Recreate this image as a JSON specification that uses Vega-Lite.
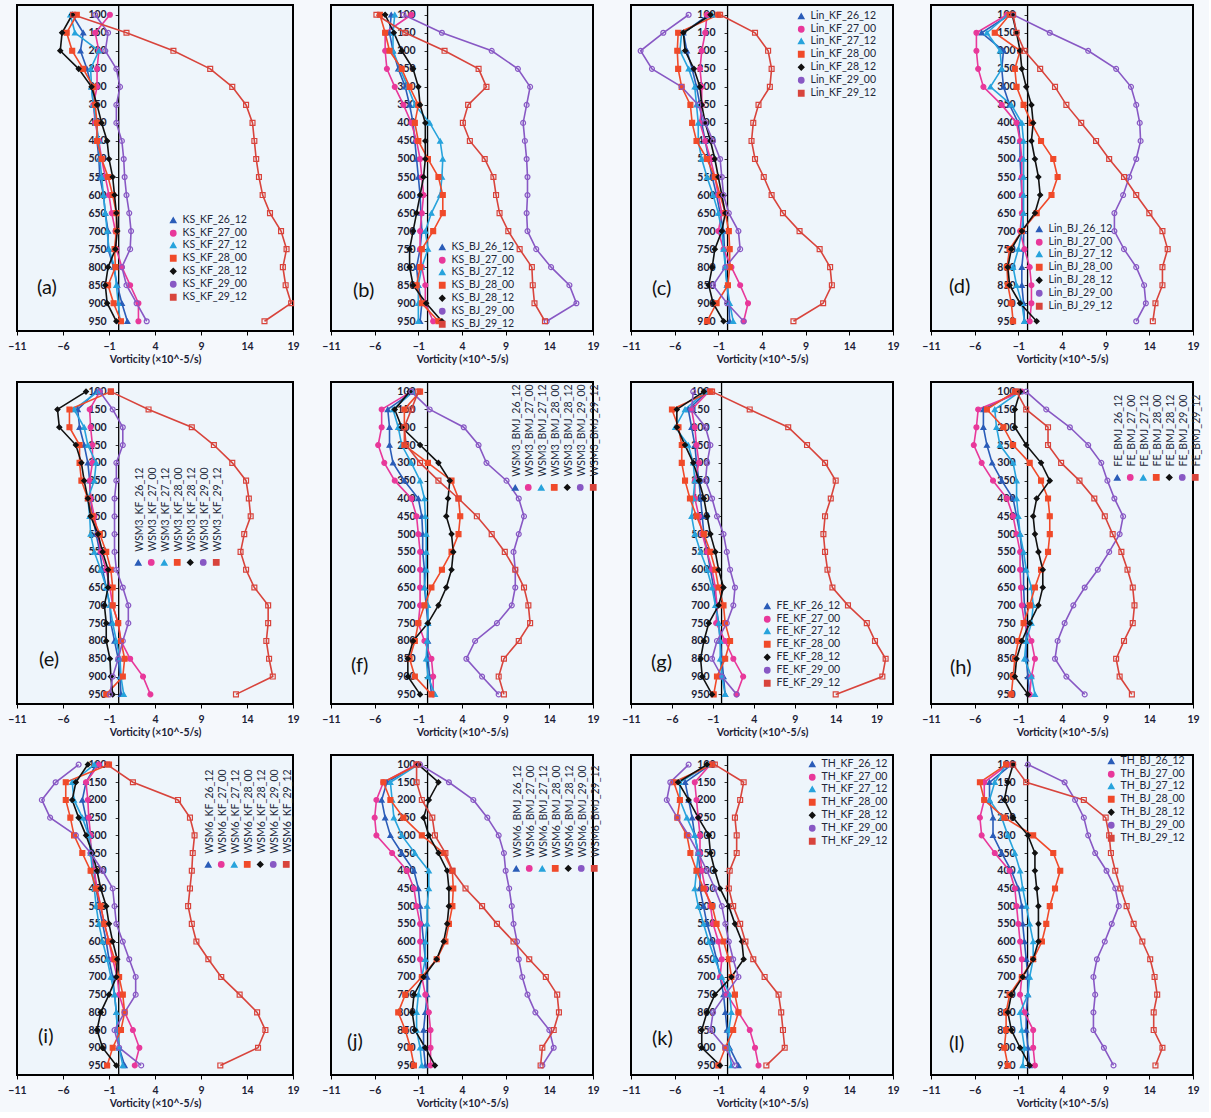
{
"$schema":"https://vega.github.io/schema/vega-lite/v6.json",
"background":"#f5f8fc",
"padding":{"left":6,"top":4,"right":5,"bottom":2},
"config":{"font":"Lato","view":{"stroke":"#000","strokeWidth":2,"fill":"#eef5fb"},
"legend":{"labelFontSize":10.5,"labelColor":"#22283a","symbolSize":30,"rowPadding":1,"columnPadding":-2,"padding":0,"labelOffset":4,"symbolStrokeWidth":1.3},
"title":{"orient":"top","anchor":"start","frame":"group","fontSize":20,"fontWeight":"normal","color":"#111","baseline":"alphabetic"},
"axis":{"grid":false}},
"datasets":{"vort":[
{"p":"a","l":100,"26_12":-5.0,"27_00":-0.9,"27_12":-5.2,"28_00":-4.5,"28_12":-5.0,"29_00":-2.5,"29_12":-4.9},
{"p":"a","l":150,"26_12":-3.8,"27_00":-2.5,"27_12":-4.7,"28_00":-5.6,"28_12":-6.1,"29_00":-1.1,"29_12":0.9},
{"p":"a","l":200,"26_12":-4.1,"27_00":-2.1,"27_12":-2.1,"28_00":-5.0,"28_12":-6.3,"29_00":-1.4,"29_12":6.0},
{"p":"a","l":250,"26_12":-3.4,"27_00":-2.3,"27_12":-3.0,"28_00":-3.8,"28_12":-4.3,"29_00":-0.2,"29_12":10.0},
{"p":"a","l":300,"26_12":-2.9,"27_00":-2.3,"27_12":-2.9,"28_00":-2.7,"28_12":-2.9,"29_00":0.2,"29_12":12.4},
{"p":"a","l":350,"26_12":-2.7,"27_00":-2.7,"27_12":-2.7,"28_00":-2.5,"28_12":-2.3,"29_00":-0.2,"29_12":13.9},
{"p":"a","l":400,"26_12":-2.3,"27_00":-2.5,"27_12":-2.4,"28_00":-2.3,"28_12":-1.8,"29_00":-0.2,"29_12":14.6},
{"p":"a","l":450,"26_12":-2.3,"27_00":-2.1,"27_12":-2.1,"28_00":-2.3,"28_12":-1.2,"29_00":0.4,"29_12":14.8},
{"p":"a","l":500,"26_12":-2.1,"27_00":-1.8,"27_12":-2.0,"28_00":-1.8,"28_12":-1.0,"29_00":0.6,"29_12":15.0},
{"p":"a","l":550,"26_12":-2.0,"27_00":-1.4,"27_12":-1.8,"28_00":-1.1,"28_12":-0.6,"29_00":0.7,"29_12":15.3},
{"p":"a","l":600,"26_12":-1.6,"27_00":-1.0,"27_12":-1.6,"28_00":-0.6,"28_12":-0.4,"29_00":0.9,"29_12":15.7},
{"p":"a","l":650,"26_12":-1.4,"27_00":-0.7,"27_12":-1.4,"28_00":-0.2,"28_12":-0.2,"29_00":1.2,"29_12":16.5},
{"p":"a","l":700,"26_12":-1.1,"27_00":-0.3,"27_12":-1.2,"28_00":-0.2,"28_12":-0.1,"29_00":1.4,"29_12":17.7},
{"p":"a","l":750,"26_12":-1.1,"27_00":-0.2,"27_12":-1.0,"28_00":-0.4,"28_12":-0.3,"29_00":1.3,"29_12":18.3},
{"p":"a","l":800,"26_12":-0.5,"27_00":0.4,"27_12":-0.4,"28_00":-0.3,"28_12":-1.1,"29_00":0.4,"29_12":17.9},
{"p":"a","l":850,"26_12":-0.1,"27_00":1.3,"27_12":-0.2,"28_00":-1.1,"28_12":-1.4,"29_00":0.9,"29_12":18.2},
{"p":"a","l":900,"26_12":0.4,"27_00":2.2,"27_12":0.0,"28_00":-0.5,"28_12":-1.2,"29_00":2.0,"29_12":18.8},
{"p":"a","l":950,"26_12":1.0,"27_00":2.2,"27_12":0.2,"28_00":0.3,"28_12":-0.2,"29_00":3.1,"29_12":15.9},
{"p":"b","l":100,"26_12":-4.1,"27_00":-1.8,"27_12":-3.7,"28_00":-5.4,"28_12":-4.8,"29_00":-2.7,"29_12":-5.8},
{"p":"b","l":150,"26_12":-4.3,"27_00":-4.8,"27_12":-3.9,"28_00":-4.8,"28_12":-3.8,"29_00":1.7,"29_12":-2.5},
{"p":"b","l":200,"26_12":-3.9,"27_00":-4.8,"27_12":-3.9,"28_00":-4.3,"28_12":-2.9,"29_00":7.4,"29_12":2.0},
{"p":"b","l":250,"26_12":-3.3,"27_00":-4.6,"27_12":-3.1,"28_00":-2.9,"28_12":-1.6,"29_00":10.4,"29_12":5.9},
{"p":"b","l":300,"26_12":-2.5,"27_00":-3.7,"27_12":-2.2,"28_00":-2.0,"28_12":-1.0,"29_00":11.8,"29_12":6.8},
{"p":"b","l":350,"26_12":-2.0,"27_00":-2.7,"27_12":-1.4,"28_00":-1.0,"28_12":-0.8,"29_00":11.4,"29_12":4.7},
{"p":"b","l":400,"26_12":-1.6,"27_00":-1.8,"27_12":0.3,"28_00":-1.4,"28_12":-0.2,"29_00":11.0,"29_12":4.1},
{"p":"b","l":450,"26_12":-1.4,"27_00":-1.2,"27_12":1.5,"28_00":-1.0,"28_12":-0.2,"29_00":11.2,"29_12":4.9},
{"p":"b","l":500,"26_12":-1.2,"27_00":-0.8,"27_12":1.8,"28_00":0.1,"28_12":-0.2,"29_00":11.4,"29_12":6.6},
{"p":"b","l":550,"26_12":-1.0,"27_00":-0.6,"27_12":1.7,"28_00":1.3,"28_12":-0.4,"29_00":11.5,"29_12":7.6},
{"p":"b","l":600,"26_12":-0.8,"27_00":-0.4,"27_12":1.5,"28_00":1.8,"28_12":-0.8,"29_00":11.5,"29_12":7.9},
{"p":"b","l":650,"26_12":-0.7,"27_00":-0.6,"27_12":0.5,"28_00":1.8,"28_12":-1.2,"29_00":11.4,"29_12":8.3},
{"p":"b","l":700,"26_12":-0.6,"27_00":-0.8,"27_12":-0.2,"28_00":0.7,"28_12":-1.6,"29_00":11.5,"29_12":9.3},
{"p":"b","l":750,"26_12":-0.8,"27_00":-0.8,"27_12":0.1,"28_00":-0.6,"28_12":-2.0,"29_00":12.5,"29_12":10.6},
{"p":"b","l":800,"26_12":-1.2,"27_00":-0.6,"27_12":-0.6,"28_00":-0.8,"28_12":-2.0,"29_00":14.2,"29_12":12.0},
{"p":"b","l":850,"26_12":-1.0,"27_00":-0.2,"27_12":-1.0,"28_00":-1.2,"28_12":-1.6,"29_00":16.3,"29_12":12.1},
{"p":"b","l":900,"26_12":-0.6,"27_00":-0.2,"27_12":-1.0,"28_00":-0.6,"28_12":-0.1,"29_00":17.1,"29_12":12.3},
{"p":"b","l":950,"26_12":-0.8,"27_00":0.7,"27_12":-1.0,"28_00":1.3,"28_12":1.7,"29_00":13.7,"29_12":13.5},
{"p":"c","l":100,"26_12":-2.1,"27_00":-2.3,"27_12":-1.7,"28_00":-1.0,"28_12":-1.9,"29_00":-4.4,"29_12":-0.8},
{"p":"c","l":150,"26_12":-5.0,"27_00":-2.5,"27_12":-5.2,"28_00":-5.6,"28_12":-5.0,"29_00":-7.3,"29_12":3.2},
{"p":"c","l":200,"26_12":-4.6,"27_00":-2.9,"27_12":-5.4,"28_00":-5.7,"28_12":-4.8,"29_00":-9.9,"29_12":4.7},
{"p":"c","l":250,"26_12":-4.0,"27_00":-3.1,"27_12":-4.4,"28_00":-5.6,"28_12":-3.8,"29_00":-8.6,"29_12":5.1},
{"p":"c","l":300,"26_12":-3.5,"27_00":-2.9,"27_12":-3.7,"28_00":-5.2,"28_12":-3.1,"29_00":-5.2,"29_12":4.9},
{"p":"c","l":350,"26_12":-3.1,"27_00":-2.9,"27_12":-3.5,"28_00":-4.2,"28_12":-2.9,"29_00":-3.3,"29_12":3.6},
{"p":"c","l":400,"26_12":-2.9,"27_00":-3.1,"27_12":-3.3,"28_00":-4.0,"28_12":-2.5,"29_00":-2.5,"29_12":3.0},
{"p":"c","l":450,"26_12":-2.5,"27_00":-2.5,"27_12":-3.3,"28_00":-3.5,"28_12":-1.9,"29_00":-1.6,"29_12":2.8},
{"p":"c","l":500,"26_12":-2.1,"27_00":-1.9,"27_12":-2.9,"28_00":-2.3,"28_12":-1.4,"29_00":-0.8,"29_12":3.2},
{"p":"c","l":550,"26_12":-1.7,"27_00":-1.4,"27_12":-2.3,"28_00":-1.4,"28_12":-1.0,"29_00":-0.6,"29_12":4.2},
{"p":"c","l":600,"26_12":-1.2,"27_00":-1.0,"27_12":-1.6,"28_00":-0.8,"28_12":-0.6,"29_00":-0.4,"29_12":5.1},
{"p":"c","l":650,"26_12":-0.8,"27_00":-0.6,"27_12":-1.0,"28_00":-0.2,"28_12":-0.2,"29_00":0.2,"29_12":6.4},
{"p":"c","l":700,"26_12":-0.4,"27_00":-1.0,"27_12":-0.6,"28_00":0.2,"28_12":-0.6,"29_00":1.3,"29_12":8.3},
{"p":"c","l":750,"26_12":-0.3,"27_00":-0.4,"27_12":-0.4,"28_00":0.3,"28_12":-1.4,"29_00":1.5,"29_12":10.6},
{"p":"c","l":800,"26_12":-0.2,"27_00":0.5,"27_12":-0.2,"28_00":0.3,"28_12":-1.7,"29_00":-0.2,"29_12":11.8},
{"p":"c","l":850,"26_12":0.0,"27_00":1.5,"27_12":0.0,"28_00":0.1,"28_12":-2.1,"29_00":-1.6,"29_12":12.0},
{"p":"c","l":900,"26_12":0.2,"27_00":2.4,"27_12":0.3,"28_00":-1.2,"28_12":-1.6,"29_00":0.0,"29_12":11.0},
{"p":"c","l":950,"26_12":0.3,"27_00":1.9,"27_12":0.7,"28_00":-2.3,"28_12":-0.4,"29_00":1.9,"29_12":7.6},
{"p":"d","l":100,"26_12":-2.0,"27_00":-2.3,"27_12":-2.2,"28_00":-2.0,"28_12":-1.7,"29_00":-1.6,"29_12":-1.6},
{"p":"d","l":150,"26_12":-5.2,"27_00":-5.8,"27_12":-4.6,"28_00":-3.7,"28_12":-1.2,"29_00":2.6,"29_12":-1.2},
{"p":"d","l":200,"26_12":-2.7,"27_00":-5.8,"27_12":-3.1,"28_00":-0.8,"28_12":-0.8,"29_00":7.0,"29_12":-0.3},
{"p":"d","l":250,"26_12":-2.9,"27_00":-5.6,"27_12":-2.9,"28_00":-1.4,"28_12":-0.6,"29_00":10.2,"29_12":1.5},
{"p":"d","l":300,"26_12":-2.7,"27_00":-5.0,"27_12":-4.2,"28_00":-1.2,"28_12":-0.1,"29_00":11.9,"29_12":3.2},
{"p":"d","l":350,"26_12":-2.0,"27_00":-2.9,"27_12":-1.8,"28_00":-0.4,"28_12":0.5,"29_00":12.5,"29_12":4.5},
{"p":"d","l":400,"26_12":-1.0,"27_00":-1.2,"27_12":-0.6,"28_00":0.5,"28_12":0.7,"29_00":12.9,"29_12":6.2},
{"p":"d","l":450,"26_12":-0.8,"27_00":-0.8,"27_12":-0.4,"28_00":1.6,"28_12":0.5,"29_00":13.0,"29_12":7.9},
{"p":"d","l":500,"26_12":-0.8,"27_00":-0.6,"27_12":-0.4,"28_00":3.0,"28_12":0.9,"29_00":12.5,"29_12":9.4},
{"p":"d","l":550,"26_12":-0.7,"27_00":-0.6,"27_12":-0.4,"28_00":3.5,"28_12":1.3,"29_00":11.7,"29_12":11.1},
{"p":"d","l":600,"26_12":-0.6,"27_00":-0.6,"27_12":-0.4,"28_00":2.8,"28_12":1.5,"29_00":11.0,"29_12":12.5},
{"p":"d","l":650,"26_12":-0.5,"27_00":-0.6,"27_12":-0.4,"28_00":1.1,"28_12":0.9,"29_00":10.0,"29_12":14.0},
{"p":"d","l":700,"26_12":-0.4,"27_00":-0.8,"27_12":-0.6,"28_00":-0.6,"28_12":-0.6,"29_00":10.0,"29_12":15.5},
{"p":"d","l":750,"26_12":-0.4,"27_00":-0.3,"27_12":-1.0,"28_00":-2.0,"28_12":-1.8,"29_00":11.1,"29_12":16.1},
{"p":"d","l":800,"26_12":-0.6,"27_00":0.3,"27_12":-1.6,"28_00":-2.3,"28_12":-2.2,"29_00":12.5,"29_12":15.5},
{"p":"d","l":850,"26_12":-0.6,"27_00":0.5,"27_12":-1.2,"28_00":-2.2,"28_12":-2.0,"29_00":13.4,"29_12":15.5},
{"p":"d","l":900,"26_12":-0.4,"27_00":0.5,"27_12":-0.6,"28_00":-1.8,"28_12":-0.8,"29_00":13.6,"29_12":14.7},
{"p":"d","l":950,"26_12":-0.3,"27_00":0.3,"27_12":-0.3,"28_00":-1.6,"28_12":1.1,"29_00":12.5,"29_12":14.4},
{"p":"e","l":100,"26_12":-2.4,"27_00":-2.0,"27_12":-2.2,"28_00":-0.8,"28_12":-3.5,"29_00":-2.0,"29_12":-0.8},
{"p":"e","l":150,"26_12":-4.4,"27_00":-3.1,"27_12":-4.8,"28_00":-5.3,"28_12":-6.6,"29_00":-0.6,"29_12":3.3},
{"p":"e","l":200,"26_12":-4.2,"27_00":-3.0,"27_12":-3.7,"28_00":-5.3,"28_12":-6.4,"29_00":0.5,"29_12":8.0},
{"p":"e","l":250,"26_12":-3.7,"27_00":-2.8,"27_12":-3.3,"28_00":-4.2,"28_12":-4.6,"29_00":0.5,"29_12":10.4},
{"p":"e","l":300,"26_12":-3.3,"27_00":-2.8,"27_12":-2.4,"28_00":-4.2,"28_12":-4.0,"29_00":-0.2,"29_12":12.4},
{"p":"e","l":350,"26_12":-3.1,"27_00":-3.1,"27_12":-2.6,"28_00":-4.0,"28_12":-3.7,"29_00":-0.2,"29_12":13.9},
{"p":"e","l":400,"26_12":-3.0,"27_00":-3.0,"27_12":-3.3,"28_00":-3.3,"28_12":-3.3,"29_00":-0.4,"29_12":14.2},
{"p":"e","l":450,"26_12":-2.8,"27_00":-2.6,"27_12":-3.1,"28_00":-2.8,"28_12":-3.0,"29_00":-0.4,"29_12":14.4},
{"p":"e","l":500,"26_12":-2.4,"27_00":-2.2,"27_12":-3.0,"28_00":-2.0,"28_12":-2.2,"29_00":-0.4,"29_12":13.7},
{"p":"e","l":550,"26_12":-2.0,"27_00":-1.9,"27_12":-2.6,"28_00":-1.3,"28_12":-1.7,"29_00":-0.4,"29_12":13.3},
{"p":"e","l":600,"26_12":-1.7,"27_00":-1.3,"27_12":-1.9,"28_00":-0.8,"28_12":-1.1,"29_00":-0.2,"29_12":13.9},
{"p":"e","l":650,"26_12":-1.3,"27_00":-0.9,"27_12":-1.3,"28_00":-0.6,"28_12":-1.1,"29_00":0.5,"29_12":14.8},
{"p":"e","l":700,"26_12":-0.9,"27_00":-0.6,"27_12":-0.9,"28_00":-0.6,"28_12":-1.5,"29_00":1.1,"29_12":16.3},
{"p":"e","l":750,"26_12":-0.8,"27_00":0.0,"27_12":-0.6,"28_00":0.0,"28_12":-1.3,"29_00":1.1,"29_12":16.3},
{"p":"e","l":800,"26_12":-0.4,"27_00":0.3,"27_12":-0.2,"28_00":0.3,"28_12":-1.3,"29_00":0.5,"29_12":16.1},
{"p":"e","l":850,"26_12":0.0,"27_00":1.3,"27_12":0.2,"28_00":0.7,"28_12":-0.9,"29_00":0.0,"29_12":16.4},
{"p":"e","l":900,"26_12":0.2,"27_00":2.7,"27_12":0.3,"28_00":0.5,"28_12":-0.8,"29_00":-0.6,"29_12":16.8},
{"p":"e","l":950,"26_12":0.3,"27_00":3.5,"27_12":0.6,"28_00":-1.3,"28_12":-0.6,"29_00":-0.9,"29_12":12.8},
{"p":"f","l":100,"26_12":-1.6,"27_00":-1.8,"27_12":-1.6,"28_00":-0.8,"28_12":-2.0,"29_00":-1.8,"29_12":-1.0},
{"p":"f","l":150,"26_12":-4.5,"27_00":-5.2,"27_12":-3.9,"28_00":-2.6,"28_12":-3.7,"29_00":0.3,"29_12":-1.8},
{"p":"f","l":200,"26_12":-4.3,"27_00":-5.2,"27_12":-3.3,"28_00":-2.6,"28_12":-2.9,"29_00":4.2,"29_12":-2.6},
{"p":"f","l":250,"26_12":-4.3,"27_00":-5.6,"27_12":-2.9,"28_00":-2.6,"28_12":-0.8,"29_00":5.9,"29_12":-2.4},
{"p":"f","l":300,"26_12":-3.9,"27_00":-4.9,"27_12":-1.8,"28_00":0.1,"28_12":1.3,"29_00":6.8,"29_12":-0.8},
{"p":"f","l":350,"26_12":-2.6,"27_00":-3.7,"27_12":-0.8,"28_00":2.8,"28_12":2.6,"29_00":9.1,"29_12":1.3},
{"p":"f","l":400,"26_12":-1.0,"27_00":-1.8,"27_12":-0.3,"28_00":3.6,"28_12":2.4,"29_00":10.5,"29_12":3.6},
{"p":"f","l":450,"26_12":-0.6,"27_00":-1.2,"27_12":-0.2,"28_00":3.8,"28_12":2.2,"29_00":11.1,"29_12":5.7},
{"p":"f","l":500,"26_12":-0.5,"27_00":-1.0,"27_12":-0.1,"28_00":3.6,"28_12":2.8,"29_00":10.5,"29_12":7.4},
{"p":"f","l":550,"26_12":-0.5,"27_00":-0.8,"27_12":-0.1,"28_00":2.8,"28_12":3.0,"29_00":9.9,"29_12":8.9},
{"p":"f","l":600,"26_12":-0.3,"27_00":-0.8,"27_12":-0.1,"28_00":1.7,"28_12":2.8,"29_00":10.1,"29_12":10.1},
{"p":"f","l":650,"26_12":-0.3,"27_00":-0.8,"27_12":-0.3,"28_00":0.5,"28_12":2.2,"29_00":10.1,"29_12":11.1},
{"p":"f","l":700,"26_12":-0.1,"27_00":-0.8,"27_12":0.1,"28_00":-0.3,"28_12":1.3,"29_00":9.7,"29_12":11.6},
{"p":"f","l":750,"26_12":0.1,"27_00":-1.0,"27_12":0.1,"28_00":-1.0,"28_12":0.1,"29_00":8.0,"29_12":11.8},
{"p":"f","l":800,"26_12":0.1,"27_00":-0.3,"27_12":0.0,"28_00":-1.4,"28_12":-1.6,"29_00":5.5,"29_12":10.5},
{"p":"f","l":850,"26_12":0.1,"27_00":0.5,"27_12":-0.1,"28_00":-2.0,"28_12":-2.2,"29_00":4.5,"29_12":8.8},
{"p":"f","l":900,"26_12":0.3,"27_00":0.7,"27_12":0.1,"28_00":-1.4,"28_12":-2.2,"29_00":6.3,"29_12":8.2},
{"p":"f","l":950,"26_12":0.5,"27_00":0.7,"27_12":0.9,"28_00":0.5,"28_12":-0.8,"29_00":8.2,"29_12":8.8},
{"p":"g","l":100,"26_12":-1.7,"27_00":-1.5,"27_12":-1.9,"28_00":-1.3,"28_12":-2.1,"29_00":-3.4,"29_12":-1.1},
{"p":"g","l":150,"26_12":-4.0,"27_00":-3.6,"27_12":-4.4,"28_00":-6.0,"28_12":-5.4,"29_00":-3.6,"29_12":3.5},
{"p":"g","l":200,"26_12":-3.6,"27_00":-3.2,"27_12":-5.6,"28_00":-5.2,"28_12":-5.4,"29_00":-1.9,"29_12":8.2},
{"p":"g","l":250,"26_12":-3.2,"27_00":-3.0,"27_12":-4.0,"28_00":-4.8,"28_12":-4.4,"29_00":-1.3,"29_12":10.5},
{"p":"g","l":300,"26_12":-3.0,"27_00":-2.7,"27_12":-3.4,"28_00":-4.8,"28_12":-3.4,"29_00":-1.7,"29_12":12.7},
{"p":"g","l":350,"26_12":-2.7,"27_00":-3.2,"27_12":-3.2,"28_00":-4.4,"28_12":-2.7,"29_00":-1.9,"29_12":14.0},
{"p":"g","l":400,"26_12":-2.5,"27_00":-3.2,"27_12":-3.4,"28_00":-3.8,"28_12":-2.1,"29_00":-1.1,"29_12":13.4},
{"p":"g","l":450,"26_12":-2.3,"27_00":-2.7,"27_12":-3.6,"28_00":-3.0,"28_12":-1.7,"29_00":-0.5,"29_12":12.7},
{"p":"g","l":500,"26_12":-2.1,"27_00":-2.3,"27_12":-3.2,"28_00":-2.1,"28_12":-1.3,"29_00":0.3,"29_12":12.5},
{"p":"g","l":550,"26_12":-1.7,"27_00":-1.7,"27_12":-2.5,"28_00":-1.3,"28_12":-0.7,"29_00":0.7,"29_12":12.7},
{"p":"g","l":600,"26_12":-1.3,"27_00":-1.1,"27_12":-1.7,"28_00":-0.7,"28_12":-0.3,"29_00":1.1,"29_12":13.0},
{"p":"g","l":650,"26_12":-0.9,"27_00":-0.7,"27_12":-1.1,"28_00":-0.3,"28_12":0.3,"29_00":1.7,"29_12":13.6},
{"p":"g","l":700,"26_12":-0.6,"27_00":-0.5,"27_12":-0.7,"28_00":0.3,"28_12":-0.3,"29_00":1.5,"29_12":15.5},
{"p":"g","l":750,"26_12":-0.3,"27_00":-0.6,"27_12":-0.3,"28_00":0.5,"28_12":-1.5,"29_00":0.7,"29_12":17.8},
{"p":"g","l":800,"26_12":-0.1,"27_00":0.5,"27_12":-0.1,"28_00":1.1,"28_12":-2.1,"29_00":-0.5,"29_12":18.8},
{"p":"g","l":850,"26_12":0.1,"27_00":1.5,"27_12":-0.1,"28_00":0.5,"28_12":-2.5,"29_00":-1.1,"29_12":20.1},
{"p":"g","l":900,"26_12":0.3,"27_00":2.7,"27_12":0.1,"28_00":-0.5,"28_12":-2.3,"29_00":0.1,"29_12":19.7},
{"p":"g","l":950,"26_12":0.5,"27_00":1.9,"27_12":0.5,"28_00":-0.9,"28_12":-1.1,"29_00":1.9,"29_12":14.0},
{"p":"h","l":100,"26_12":-1.0,"27_00":-0.6,"27_12":-0.8,"28_00":-1.4,"28_12":-0.8,"29_00":-0.1,"29_12":-1.2},
{"p":"h","l":150,"26_12":-5.0,"27_00":-5.6,"27_12":-3.7,"28_00":-4.6,"28_12":-1.4,"29_00":2.2,"29_12":-0.1},
{"p":"h","l":200,"26_12":-5.0,"27_00":-5.8,"27_12":-3.5,"28_00":-2.7,"28_12":-1.4,"29_00":4.9,"29_12":2.4},
{"p":"h","l":250,"26_12":-4.6,"27_00":-6.1,"27_12":-3.1,"28_00":-1.6,"28_12":-0.1,"29_00":7.0,"29_12":2.4},
{"p":"h","l":300,"26_12":-4.0,"27_00":-5.2,"27_12":-1.6,"28_00":0.3,"28_12":1.6,"29_00":8.5,"29_12":3.9},
{"p":"h","l":350,"26_12":-2.9,"27_00":-3.9,"27_12":-1.2,"28_00":1.6,"28_12":2.6,"29_00":9.2,"29_12":6.0},
{"p":"h","l":400,"26_12":-1.6,"27_00":-2.3,"27_12":-1.2,"28_00":2.4,"28_12":1.1,"29_00":10.0,"29_12":7.7},
{"p":"h","l":450,"26_12":-1.2,"27_00":-1.6,"27_12":-1.0,"28_00":2.6,"28_12":0.7,"29_00":11.0,"29_12":8.9},
{"p":"h","l":500,"26_12":-0.8,"27_00":-1.2,"27_12":-0.8,"28_00":2.6,"28_12":0.9,"29_00":10.6,"29_12":9.8},
{"p":"h","l":550,"26_12":-0.6,"27_00":-0.8,"27_12":-0.4,"28_00":2.4,"28_12":1.3,"29_00":9.4,"29_12":10.8},
{"p":"h","l":600,"26_12":-0.4,"27_00":-0.8,"27_12":-0.1,"28_00":1.6,"28_12":1.8,"29_00":8.1,"29_12":11.5},
{"p":"h","l":650,"26_12":-0.4,"27_00":-0.7,"27_12":0.5,"28_00":0.9,"28_12":1.8,"29_00":6.6,"29_12":12.1},
{"p":"h","l":700,"26_12":-0.3,"27_00":-0.6,"27_12":0.7,"28_00":0.3,"28_12":1.3,"29_00":5.3,"29_12":12.3},
{"p":"h","l":750,"26_12":-0.1,"27_00":-0.3,"27_12":0.5,"28_00":-0.4,"28_12":0.3,"29_00":4.3,"29_12":12.1},
{"p":"h","l":800,"26_12":-0.1,"27_00":0.5,"27_12":-0.1,"28_00":-1.0,"28_12":-0.6,"29_00":3.5,"29_12":11.1},
{"p":"h","l":850,"26_12":-0.1,"27_00":0.9,"27_12":-0.3,"28_00":-1.4,"28_12":-1.2,"29_00":3.2,"29_12":10.2},
{"p":"h","l":900,"26_12":0.1,"27_00":0.5,"27_12":0.5,"28_00":-1.6,"28_12":-1.4,"29_00":4.5,"29_12":10.6},
{"p":"h","l":950,"26_12":0.3,"27_00":0.3,"27_12":0.9,"28_00":-1.8,"28_12":0.1,"29_00":6.6,"29_12":12.0},
{"p":"i","l":100,"26_12":-2.4,"27_00":-2.1,"27_12":-2.6,"28_00":-1.0,"28_12":-3.3,"29_00":-4.3,"29_12":-1.2},
{"p":"i","l":150,"26_12":-3.5,"27_00":-3.5,"27_12":-5.0,"28_00":-5.7,"28_12":-4.6,"29_00":-6.8,"29_12":1.6},
{"p":"i","l":200,"26_12":-3.9,"27_00":-3.3,"27_12":-4.8,"28_00":-5.7,"28_12":-5.0,"29_00":-8.3,"29_12":6.5},
{"p":"i","l":250,"26_12":-3.5,"27_00":-3.2,"27_12":-3.9,"28_00":-5.2,"28_12":-4.3,"29_00":-7.4,"29_12":7.8},
{"p":"i","l":300,"26_12":-3.2,"27_00":-3.0,"27_12":-3.2,"28_00":-4.8,"28_12":-3.5,"29_00":-4.6,"29_12":8.3},
{"p":"i","l":350,"26_12":-2.8,"27_00":-3.0,"27_12":-3.0,"28_00":-3.9,"28_12":-2.8,"29_00":-3.0,"29_12":8.1},
{"p":"i","l":400,"26_12":-2.6,"27_00":-2.6,"27_12":-2.8,"28_00":-3.0,"28_12":-2.3,"29_00":-1.7,"29_12":8.0},
{"p":"i","l":450,"26_12":-2.4,"27_00":-2.3,"27_12":-2.6,"28_00":-2.4,"28_12":-1.9,"29_00":-0.6,"29_12":7.8},
{"p":"i","l":500,"26_12":-2.1,"27_00":-1.9,"27_12":-2.4,"28_00":-1.9,"28_12":-1.3,"29_00":-0.4,"29_12":7.6},
{"p":"i","l":550,"26_12":-1.7,"27_00":-1.5,"27_12":-2.1,"28_00":-1.5,"28_12":-1.0,"29_00":-0.2,"29_12":8.0},
{"p":"i","l":600,"26_12":-1.3,"27_00":-1.0,"27_12":-1.7,"28_00":-1.0,"28_12":-0.6,"29_00":0.5,"29_12":8.5},
{"p":"i","l":650,"26_12":-1.0,"27_00":-0.6,"27_12":-1.2,"28_00":-0.4,"28_12":-0.1,"29_00":1.2,"29_12":9.8},
{"p":"i","l":700,"26_12":-0.6,"27_00":-0.1,"27_12":-0.8,"28_00":0.1,"28_12":-0.2,"29_00":1.9,"29_12":11.2},
{"p":"i","l":750,"26_12":-0.4,"27_00":0.1,"27_12":-0.4,"28_00":0.5,"28_12":-1.0,"29_00":1.9,"29_12":13.2},
{"p":"i","l":800,"26_12":-0.2,"27_00":0.7,"27_12":-0.2,"28_00":0.7,"28_12":-1.9,"29_00":0.7,"29_12":15.1},
{"p":"i","l":850,"26_12":-0.1,"27_00":1.6,"27_12":-0.1,"28_00":0.3,"28_12":-2.3,"29_00":-0.4,"29_12":16.0},
{"p":"i","l":900,"26_12":0.1,"27_00":2.3,"27_12":0.1,"28_00":-0.6,"28_12":-1.7,"29_00":0.1,"29_12":15.2},
{"p":"i","l":950,"26_12":0.7,"27_00":1.8,"27_12":0.5,"28_00":-1.2,"28_12":-0.2,"29_00":2.5,"29_12":11.1},
{"p":"j","l":100,"26_12":-1.2,"27_00":-1.2,"27_12":-1.0,"28_00":-1.0,"28_12":-1.0,"29_00":-0.8,"29_12":-1.2},
{"p":"j","l":150,"26_12":-4.6,"27_00":-5.0,"27_12":-4.2,"28_00":-5.0,"28_12":1.3,"29_00":2.5,"29_12":-1.2},
{"p":"j","l":200,"26_12":-5.2,"27_00":-5.8,"27_12":-4.0,"28_00":-4.2,"28_12":0.2,"29_00":5.3,"29_12":-0.6},
{"p":"j","l":250,"26_12":-4.8,"27_00":-6.0,"27_12":-3.8,"28_00":-2.7,"28_12":-0.4,"29_00":6.9,"29_12":0.6},
{"p":"j","l":300,"26_12":-4.2,"27_00":-5.8,"27_12":-2.9,"28_00":-0.6,"28_12":0.2,"29_00":8.2,"29_12":0.9},
{"p":"j","l":350,"26_12":-2.9,"27_00":-4.0,"27_12":-1.4,"28_00":1.9,"28_12":1.3,"29_00":8.8,"29_12":2.1},
{"p":"j","l":400,"26_12":-1.5,"27_00":-2.3,"27_12":0.2,"28_00":2.9,"28_12":2.3,"29_00":9.0,"29_12":2.9},
{"p":"j","l":450,"26_12":-1.0,"27_00":-1.5,"27_12":0.2,"28_00":3.0,"28_12":2.5,"29_00":9.4,"29_12":4.4},
{"p":"j","l":500,"26_12":-0.8,"27_00":-1.2,"27_12":0.0,"28_00":2.9,"28_12":2.5,"29_00":9.7,"29_12":6.3},
{"p":"j","l":550,"26_12":-0.6,"27_00":-0.8,"27_12":0.0,"28_00":2.5,"28_12":2.3,"29_00":9.9,"29_12":8.0},
{"p":"j","l":600,"26_12":-0.4,"27_00":-0.8,"27_12":-0.2,"28_00":2.1,"28_12":1.9,"29_00":10.3,"29_12":9.9},
{"p":"j","l":650,"26_12":-0.2,"27_00":-0.8,"27_12":-0.2,"28_00":1.1,"28_12":1.1,"29_00":10.5,"29_12":11.7},
{"p":"j","l":700,"26_12":0.0,"27_00":-0.6,"27_12":-0.6,"28_00":-0.6,"28_12":-0.4,"29_00":10.9,"29_12":13.6},
{"p":"j","l":750,"26_12":0.0,"27_00":-0.2,"27_12":-1.0,"28_00":-2.5,"28_12":-1.5,"29_00":11.5,"29_12":14.9},
{"p":"j","l":800,"26_12":-0.2,"27_00":0.2,"27_12":-1.2,"28_00":-3.3,"28_12":-1.7,"29_00":12.4,"29_12":15.1},
{"p":"j","l":850,"26_12":-0.4,"27_00":0.4,"27_12":-1.2,"28_00":-2.5,"28_12":-1.4,"29_00":14.0,"29_12":14.5},
{"p":"j","l":900,"26_12":-0.4,"27_00":0.4,"27_12":-0.8,"28_00":-1.9,"28_12":-0.2,"29_00":14.5,"29_12":13.2},
{"p":"j","l":950,"26_12":-0.2,"27_00":0.4,"27_12":-0.6,"28_00":-1.5,"28_12":0.9,"29_00":13.2,"29_12":13.0},
{"p":"k","l":100,"26_12":-1.9,"27_00":-1.9,"27_12":-2.1,"28_00":-1.7,"28_12":-2.3,"29_00":-4.4,"29_12":-1.4},
{"p":"k","l":150,"26_12":-4.8,"27_00":-3.7,"27_12":-5.4,"28_00":-6.1,"28_12":-5.6,"29_00":-6.5,"29_12":1.9},
{"p":"k","l":200,"26_12":-4.4,"27_00":-3.5,"27_12":-5.4,"28_00":-5.4,"28_12":-4.4,"29_00":-6.9,"29_12":1.5},
{"p":"k","l":250,"26_12":-4.0,"27_00":-3.3,"27_12":-4.6,"28_00":-5.7,"28_12":-3.3,"29_00":-5.7,"29_12":0.9},
{"p":"k","l":300,"26_12":-3.7,"27_00":-3.1,"27_12":-3.7,"28_00":-4.6,"28_12":-2.1,"29_00":-4.4,"29_12":1.1},
{"p":"k","l":350,"26_12":-3.3,"27_00":-3.1,"27_12":-3.3,"28_00":-4.2,"28_12":-1.9,"29_00":-3.3,"29_12":1.1},
{"p":"k","l":400,"26_12":-3.1,"27_00":-2.9,"27_12":-3.5,"28_00":-3.5,"28_12":-1.4,"29_00":-2.3,"29_12":0.3},
{"p":"k","l":450,"26_12":-3.1,"27_00":-2.5,"27_12":-3.7,"28_00":-2.7,"28_12":-0.8,"29_00":-1.4,"29_12":0.2},
{"p":"k","l":500,"26_12":-2.7,"27_00":-1.9,"27_12":-3.3,"28_00":-1.7,"28_12":0.2,"29_00":-0.6,"29_12":0.7},
{"p":"k","l":550,"26_12":-2.3,"27_00":-1.6,"27_12":-2.7,"28_00":-1.2,"28_12":0.9,"29_00":-0.2,"29_12":1.5},
{"p":"k","l":600,"26_12":-1.7,"27_00":-1.0,"27_12":-2.1,"28_00":-0.4,"28_12":1.7,"29_00":0.2,"29_12":2.1},
{"p":"k","l":650,"26_12":-1.2,"27_00":-0.6,"27_12":-1.4,"28_00":0.2,"28_12":1.9,"29_00":0.7,"29_12":3.0},
{"p":"k","l":700,"26_12":-0.8,"27_00":-0.8,"27_12":-0.6,"28_00":0.5,"28_12":0.5,"29_00":1.3,"29_12":4.3},
{"p":"k","l":750,"26_12":-0.4,"27_00":0.0,"27_12":0.3,"28_00":0.9,"28_12":-1.4,"29_00":-0.2,"29_12":5.9},
{"p":"k","l":800,"26_12":-0.2,"27_00":1.3,"27_12":0.5,"28_00":1.3,"28_12":-2.3,"29_00":-1.6,"29_12":6.2},
{"p":"k","l":850,"26_12":0.0,"27_00":2.6,"27_12":0.2,"28_00":0.7,"28_12":-2.9,"29_00":-1.9,"29_12":6.4},
{"p":"k","l":900,"26_12":0.3,"27_00":3.2,"27_12":0.2,"28_00":-0.2,"28_12":-2.9,"29_00":-0.2,"29_12":6.6},
{"p":"k","l":950,"26_12":1.3,"27_00":3.6,"27_12":0.5,"28_00":-1.0,"28_12":-0.8,"29_00":0.9,"29_12":4.5},
{"p":"l","l":100,"26_12":-1.8,"27_00":-2.2,"27_12":-2.4,"28_00":-2.4,"28_12":-1.6,"29_00":0.1,"29_12":-1.6},
{"p":"l","l":150,"26_12":-4.3,"27_00":-4.9,"27_12":-3.7,"28_00":-5.4,"28_12":-2.2,"29_00":4.3,"29_12":-0.1},
{"p":"l","l":200,"26_12":-4.3,"27_00":-4.9,"27_12":-4.3,"28_00":-4.9,"28_12":-2.6,"29_00":5.5,"29_12":6.5},
{"p":"l","l":250,"26_12":-3.9,"27_00":-5.4,"27_12":-2.9,"28_00":-2.6,"28_12":-1.6,"29_00":6.5,"29_12":9.0},
{"p":"l","l":300,"26_12":-3.9,"27_00":-5.2,"27_12":-2.2,"28_00":0.7,"28_12":0.1,"29_00":7.0,"29_12":9.4},
{"p":"l","l":350,"26_12":-2.9,"27_00":-3.7,"27_12":-1.4,"28_00":3.0,"28_12":0.9,"29_00":7.8,"29_12":9.6},
{"p":"l","l":400,"26_12":-1.8,"27_00":-2.0,"27_12":-0.8,"28_00":3.8,"28_12":0.9,"29_00":9.1,"29_12":10.1},
{"p":"l","l":450,"26_12":-1.0,"27_00":-1.4,"27_12":-0.5,"28_00":3.2,"28_12":1.1,"29_00":10.1,"29_12":10.7},
{"p":"l","l":500,"26_12":-0.6,"27_00":-1.2,"27_12":-0.1,"28_00":2.6,"28_12":1.3,"29_00":10.5,"29_12":11.4},
{"p":"l","l":550,"26_12":-0.5,"27_00":-1.0,"27_12":0.3,"28_00":2.2,"28_12":1.3,"29_00":9.7,"29_12":12.2},
{"p":"l","l":600,"26_12":-0.3,"27_00":-0.8,"27_12":0.7,"28_00":1.7,"28_12":1.3,"29_00":8.9,"29_12":13.2},
{"p":"l","l":650,"26_12":-0.1,"27_00":-0.6,"27_12":0.7,"28_00":0.7,"28_12":0.7,"29_00":8.0,"29_12":14.1},
{"p":"l","l":700,"26_12":0.1,"27_00":-0.6,"27_12":0.3,"28_00":-0.6,"28_12":-0.5,"29_00":7.6,"29_12":14.6},
{"p":"l","l":750,"26_12":0.1,"27_00":-0.8,"27_12":0.1,"28_00":-2.0,"28_12":-1.8,"29_00":7.8,"29_12":14.9},
{"p":"l","l":800,"26_12":-0.1,"27_00":-0.3,"27_12":-0.8,"28_00":-2.4,"28_12":-2.2,"29_00":7.6,"29_12":14.5},
{"p":"l","l":850,"26_12":-0.1,"27_00":0.7,"27_12":-0.6,"28_00":-2.4,"28_12":-1.8,"29_00":7.6,"29_12":14.5},
{"p":"l","l":900,"26_12":0.1,"27_00":0.7,"27_12":-0.3,"28_00":-2.6,"28_12":-0.8,"29_00":8.8,"29_12":15.5},
{"p":"l","l":950,"26_12":0.3,"27_00":0.9,"27_12":-0.5,"28_00":-2.2,"28_12":0.3,"29_00":9.9,"29_12":14.7}
]},
"vconcat":[
{"hconcat":[
{"width":276,"height":326,"data":{"name":"vort"},"title":{"text":"(a)","offset":-293,"dx":20},
"encoding":{"x":{"field":"v","type":"quantitative","scale":{"domain":[-11,19],"nice":false,"zero":false},"axis":{"values":[-11,-6,-1,4,9,14,19],"title":"Vorticity (×10^-5/s)","labelFontSize":10.5,"labelFontWeight":"bold","labelColor":"#1c2136","titleFontSize":10.5,"titleFontWeight":"bold","titleColor":"#1c2136","tickSize":4,"tickColor":"#000","domain":false,"labelPadding":6,"titlePadding":3,"labelFlush":false}},
"y":{"field":"l","type":"quantitative","scale":{"domain":[73,977],"reverse":true,"nice":false,"zero":false},"axis":{"values":[100,150,200,250,300,350,400,450,500,550,600,650,700,750,800,850,900,950],"title":null,"offset":-101.2,"labelFontSize":10.5,"labelFontWeight":"bold","labelColor":"#1c2136","tickSize":3,"tickColor":"#333","labelPadding":9,"domainColor":"#000","domainWidth":1.3}},
"color":{"field":"s","type":"nominal","scale":{"domain":["26_12","27_00","27_12","28_00","28_12","29_00","29_12"],"range":["#2a5cb8","#e8389a","#27a3dc","#f04a2a","#111111","#8858c4","#d8443c"]},"legend":{"title":null,"orient":"none","legendX":151,"legendY":210,"labelExpr":"'KS_KF_' + datum.label"}}},
"transform":[{"filter":"datum.p=='a'"},{"fold":["26_12","27_00","27_12","28_00","28_12","29_00","29_12"],"as":["s","v"]}],
"layer":[
{"mark":{"type":"line","strokeWidth":1.6},"encoding":{"order":{"field":"l","type":"quantitative"}}},
{"mark":{"type":"point","filled":true,"size":24,"opacity":1,"strokeWidth":1.2},"encoding":{"shape":{"field":"s","type":"nominal","scale":{"domain":["26_12","27_00","27_12","28_00","28_12","29_00","29_12"],"range":["triangle-up","circle","triangle-up","square","diamond","circle","square"]},"legend":{"title":null,"orient":"none","legendX":151,"legendY":210,"labelExpr":"'KS_KF_' + datum.label"}},"stroke":{"field":"s","type":"nominal","scale":{"domain":["26_12","27_00","27_12","28_00","28_12","29_00","29_12"],"range":["#2a5cb8","#e8389a","#27a3dc","#f04a2a","#111111","#8858c4","#d8443c"]},"legend":null},"fillOpacity":{"condition":{"test":"datum.s=='29_00'||datum.s=='29_12'","value":0},"value":1}}}
]},
{"width":262,"height":326,"data":{"name":"vort"},"title":{"text":"(b)","offset":-296,"dx":22},
"encoding":{"x":{"field":"v","type":"quantitative","scale":{"domain":[-11,19],"nice":false,"zero":false},"axis":{"values":[-11,-6,-1,4,9,14,19],"title":"Vorticity (×10^-5/s)","labelFontSize":10.5,"labelFontWeight":"bold","labelColor":"#1c2136","titleFontSize":10.5,"titleFontWeight":"bold","titleColor":"#1c2136","tickSize":4,"tickColor":"#000","domain":false,"labelPadding":6,"titlePadding":3,"labelFlush":false}},
"y":{"field":"l","type":"quantitative","scale":{"domain":[73,977],"reverse":true,"nice":false,"zero":false},"axis":{"values":[100,150,200,250,300,350,400,450,500,550,600,650,700,750,800,850,900,950],"title":null,"offset":-96.07,"labelFontSize":10.5,"labelFontWeight":"bold","labelColor":"#1c2136","tickSize":3,"tickColor":"#333","labelPadding":9,"domainColor":"#000","domainWidth":1.3}},
"color":{"field":"s","type":"nominal","scale":{"domain":["26_12","27_00","27_12","28_00","28_12","29_00","29_12"],"range":["#2a5cb8","#e8389a","#27a3dc","#f04a2a","#111111","#8858c4","#d8443c"]},"legend":{"title":null,"orient":"none","legendX":106,"legendY":237,"labelExpr":"'KS_BJ_' + datum.label"}}},
"transform":[{"filter":"datum.p=='b'"},{"fold":["26_12","27_00","27_12","28_00","28_12","29_00","29_12"],"as":["s","v"]}],
"layer":[
{"mark":{"type":"line","strokeWidth":1.6},"encoding":{"order":{"field":"l","type":"quantitative"}}},
{"mark":{"type":"point","filled":true,"size":24,"opacity":1,"strokeWidth":1.2},"encoding":{"shape":{"field":"s","type":"nominal","scale":{"domain":["26_12","27_00","27_12","28_00","28_12","29_00","29_12"],"range":["triangle-up","circle","triangle-up","square","diamond","circle","square"]},"legend":{"title":null,"orient":"none","legendX":106,"legendY":237,"labelExpr":"'KS_BJ_' + datum.label"}},"stroke":{"field":"s","type":"nominal","scale":{"domain":["26_12","27_00","27_12","28_00","28_12","29_00","29_12"],"range":["#2a5cb8","#e8389a","#27a3dc","#f04a2a","#111111","#8858c4","#d8443c"]},"legend":null},"fillOpacity":{"condition":{"test":"datum.s=='29_00'||datum.s=='29_12'","value":0},"value":1}}}
]},
{"width":262,"height":326,"data":{"name":"vort"},"title":{"text":"(c)","offset":-294,"dx":21},
"encoding":{"x":{"field":"v","type":"quantitative","scale":{"domain":[-11,19],"nice":false,"zero":false},"axis":{"values":[-11,-6,-1,4,9,14,19],"title":"Vorticity (×10^-5/s)","labelFontSize":10.5,"labelFontWeight":"bold","labelColor":"#1c2136","titleFontSize":10.5,"titleFontWeight":"bold","titleColor":"#1c2136","tickSize":4,"tickColor":"#000","domain":false,"labelPadding":6,"titlePadding":3,"labelFlush":false}},
"y":{"field":"l","type":"quantitative","scale":{"domain":[73,977],"reverse":true,"nice":false,"zero":false},"axis":{"values":[100,150,200,250,300,350,400,450,500,550,600,650,700,750,800,850,900,950],"title":null,"offset":-96.07,"labelFontSize":10.5,"labelFontWeight":"bold","labelColor":"#1c2136","tickSize":3,"tickColor":"#333","labelPadding":9,"domainColor":"#000","domainWidth":1.3}},
"color":{"field":"s","type":"nominal","scale":{"domain":["26_12","27_00","27_12","28_00","28_12","29_00","29_12"],"range":["#2a5cb8","#e8389a","#27a3dc","#f04a2a","#111111","#8858c4","#d8443c"]},"legend":{"title":null,"orient":"none","legendX":165,"legendY":6,"labelExpr":"'Lin_KF_' + datum.label"}}},
"transform":[{"filter":"datum.p=='c'"},{"fold":["26_12","27_00","27_12","28_00","28_12","29_00","29_12"],"as":["s","v"]}],
"layer":[
{"mark":{"type":"line","strokeWidth":1.6},"encoding":{"order":{"field":"l","type":"quantitative"}}},
{"mark":{"type":"point","filled":true,"size":24,"opacity":1,"strokeWidth":1.2},"encoding":{"shape":{"field":"s","type":"nominal","scale":{"domain":["26_12","27_00","27_12","28_00","28_12","29_00","29_12"],"range":["triangle-up","circle","triangle-up","square","diamond","circle","square"]},"legend":{"title":null,"orient":"none","legendX":165,"legendY":6,"labelExpr":"'Lin_KF_' + datum.label"}},"stroke":{"field":"s","type":"nominal","scale":{"domain":["26_12","27_00","27_12","28_00","28_12","29_00","29_12"],"range":["#2a5cb8","#e8389a","#27a3dc","#f04a2a","#111111","#8858c4","#d8443c"]},"legend":null},"fillOpacity":{"condition":{"test":"datum.s=='29_00'||datum.s=='29_12'","value":0},"value":1}}}
]},
{"width":262,"height":326,"data":{"name":"vort"},"title":{"text":"(d)","offset":-292,"dx":18},
"encoding":{"x":{"field":"v","type":"quantitative","scale":{"domain":[-11,19],"nice":false,"zero":false},"axis":{"values":[-11,-6,-1,4,9,14,19],"title":"Vorticity (×10^-5/s)","labelFontSize":10.5,"labelFontWeight":"bold","labelColor":"#1c2136","titleFontSize":10.5,"titleFontWeight":"bold","titleColor":"#1c2136","tickSize":4,"tickColor":"#000","domain":false,"labelPadding":6,"titlePadding":3,"labelFlush":false}},
"y":{"field":"l","type":"quantitative","scale":{"domain":[73,977],"reverse":true,"nice":false,"zero":false},"axis":{"values":[100,150,200,250,300,350,400,450,500,550,600,650,700,750,800,850,900,950],"title":null,"offset":-96.07,"labelFontSize":10.5,"labelFontWeight":"bold","labelColor":"#1c2136","tickSize":3,"tickColor":"#333","labelPadding":9,"domainColor":"#000","domainWidth":1.3}},
"color":{"field":"s","type":"nominal","scale":{"domain":["26_12","27_00","27_12","28_00","28_12","29_00","29_12"],"range":["#2a5cb8","#e8389a","#27a3dc","#f04a2a","#111111","#8858c4","#d8443c"]},"legend":{"title":null,"orient":"none","legendX":103,"legendY":219,"labelExpr":"'Lin_BJ_' + datum.label"}}},
"transform":[{"filter":"datum.p=='d'"},{"fold":["26_12","27_00","27_12","28_00","28_12","29_00","29_12"],"as":["s","v"]}],
"layer":[
{"mark":{"type":"line","strokeWidth":1.6},"encoding":{"order":{"field":"l","type":"quantitative"}}},
{"mark":{"type":"point","filled":true,"size":24,"opacity":1,"strokeWidth":1.2},"encoding":{"shape":{"field":"s","type":"nominal","scale":{"domain":["26_12","27_00","27_12","28_00","28_12","29_00","29_12"],"range":["triangle-up","circle","triangle-up","square","diamond","circle","square"]},"legend":{"title":null,"orient":"none","legendX":103,"legendY":219,"labelExpr":"'Lin_BJ_' + datum.label"}},"stroke":{"field":"s","type":"nominal","scale":{"domain":["26_12","27_00","27_12","28_00","28_12","29_00","29_12"],"range":["#2a5cb8","#e8389a","#27a3dc","#f04a2a","#111111","#8858c4","#d8443c"]},"legend":null},"fillOpacity":{"condition":{"test":"datum.s=='29_00'||datum.s=='29_12'","value":0},"value":1}}}
]}
],"spacing":38,"bounds":"flush","resolve":{"scale":{"color":"independent","shape":"independent","stroke":"independent"},"legend":{"color":"independent","shape":"independent"}}},
{"hconcat":[
{"width":276,"height":322,"data":{"name":"vort"},"title":{"text":"(e)","offset":-288,"dx":22},
"encoding":{"x":{"field":"v","type":"quantitative","scale":{"domain":[-11,19],"nice":false,"zero":false},"axis":{"values":[-11,-6,-1,4,9,14,19],"title":"Vorticity (×10^-5/s)","labelFontSize":10.5,"labelFontWeight":"bold","labelColor":"#1c2136","titleFontSize":10.5,"titleFontWeight":"bold","titleColor":"#1c2136","tickSize":4,"tickColor":"#000","domain":false,"labelPadding":6,"titlePadding":3,"labelFlush":false}},
"y":{"field":"l","type":"quantitative","scale":{"domain":[73,977],"reverse":true,"nice":false,"zero":false},"axis":{"values":[100,150,200,250,300,350,400,450,500,550,600,650,700,750,800,850,900,950],"title":null,"offset":-101.2,"labelFontSize":10.5,"labelFontWeight":"bold","labelColor":"#1c2136","tickSize":3,"tickColor":"#333","labelPadding":9,"domainColor":"#000","domainWidth":1.3}},
"color":{"field":"s","type":"nominal","scale":{"domain":["26_12","27_00","27_12","28_00","28_12","29_00","29_12"],"range":["#2a5cb8","#e8389a","#27a3dc","#f04a2a","#111111","#8858c4","#d8443c"]},"legend":{"title":null,"orient":"none","direction":"horizontal","legendX":116,"legendY":175,"labelExpr":"'WSM3_KF_' + datum.label","encoding":{"labels":{"angle":{"value":-90},"dx":{"value":11},"dy":{"value":-7.5}}}}}},
"transform":[{"filter":"datum.p=='e'"},{"fold":["26_12","27_00","27_12","28_00","28_12","29_00","29_12"],"as":["s","v"]}],
"layer":[
{"mark":{"type":"line","strokeWidth":1.6},"encoding":{"order":{"field":"l","type":"quantitative"}}},
{"mark":{"type":"point","filled":true,"size":24,"opacity":1,"strokeWidth":1.2},"encoding":{"shape":{"field":"s","type":"nominal","scale":{"domain":["26_12","27_00","27_12","28_00","28_12","29_00","29_12"],"range":["triangle-up","circle","triangle-up","square","diamond","circle","square"]},"legend":{"title":null,"orient":"none","direction":"horizontal","legendX":116,"legendY":175,"labelExpr":"'WSM3_KF_' + datum.label","encoding":{"labels":{"angle":{"value":-90},"dx":{"value":11},"dy":{"value":-7.5}}}}},"stroke":{"field":"s","type":"nominal","scale":{"domain":["26_12","27_00","27_12","28_00","28_12","29_00","29_12"],"range":["#2a5cb8","#e8389a","#27a3dc","#f04a2a","#111111","#8858c4","#d8443c"]},"legend":null},"fillOpacity":{"condition":{"test":"datum.s=='29_00'||datum.s=='29_12'","value":0},"value":1}}}
]},
{"width":262,"height":322,"data":{"name":"vort"},"title":{"text":"(f)","offset":-294,"dx":20},
"encoding":{"x":{"field":"v","type":"quantitative","scale":{"domain":[-11,19],"nice":false,"zero":false},"axis":{"values":[-11,-6,-1,4,9,14,19],"title":"Vorticity (×10^-5/s)","labelFontSize":10.5,"labelFontWeight":"bold","labelColor":"#1c2136","titleFontSize":10.5,"titleFontWeight":"bold","titleColor":"#1c2136","tickSize":4,"tickColor":"#000","domain":false,"labelPadding":6,"titlePadding":3,"labelFlush":false}},
"y":{"field":"l","type":"quantitative","scale":{"domain":[73,977],"reverse":true,"nice":false,"zero":false},"axis":{"values":[100,150,200,250,300,350,400,450,500,550,600,650,700,750,800,850,900,950],"title":null,"offset":-96.07,"labelFontSize":10.5,"labelFontWeight":"bold","labelColor":"#1c2136","tickSize":3,"tickColor":"#333","labelPadding":9,"domainColor":"#000","domainWidth":1.3}},
"color":{"field":"s","type":"nominal","scale":{"domain":["26_12","27_00","27_12","28_00","28_12","29_00","29_12"],"range":["#2a5cb8","#e8389a","#27a3dc","#f04a2a","#111111","#8858c4","#d8443c"]},"legend":{"title":null,"orient":"none","direction":"horizontal","legendX":179,"legendY":100,"labelExpr":"'WSM3_BMJ_' + datum.label","encoding":{"labels":{"angle":{"value":-90},"dx":{"value":11},"dy":{"value":-7.5}}}}}},
"transform":[{"filter":"datum.p=='f'"},{"fold":["26_12","27_00","27_12","28_00","28_12","29_00","29_12"],"as":["s","v"]}],
"layer":[
{"mark":{"type":"line","strokeWidth":1.6},"encoding":{"order":{"field":"l","type":"quantitative"}}},
{"mark":{"type":"point","filled":true,"size":24,"opacity":1,"strokeWidth":1.2},"encoding":{"shape":{"field":"s","type":"nominal","scale":{"domain":["26_12","27_00","27_12","28_00","28_12","29_00","29_12"],"range":["triangle-up","circle","triangle-up","square","diamond","circle","square"]},"legend":{"title":null,"orient":"none","direction":"horizontal","legendX":179,"legendY":100,"labelExpr":"'WSM3_BMJ_' + datum.label","encoding":{"labels":{"angle":{"value":-90},"dx":{"value":11},"dy":{"value":-7.5}}}}},"stroke":{"field":"s","type":"nominal","scale":{"domain":["26_12","27_00","27_12","28_00","28_12","29_00","29_12"],"range":["#2a5cb8","#e8389a","#27a3dc","#f04a2a","#111111","#8858c4","#d8443c"]},"legend":null},"fillOpacity":{"condition":{"test":"datum.s=='29_00'||datum.s=='29_12'","value":0},"value":1}}}
]},
{"width":262,"height":322,"data":{"name":"vort"},"title":{"text":"(g)","offset":-291,"dx":20},
"encoding":{"x":{"field":"v","type":"quantitative","scale":{"domain":[-11,21],"nice":false,"zero":false},"axis":{"values":[-11,-6,-1,4,9,14,19],"title":"Vorticity (×10^-5/s)","labelFontSize":10.5,"labelFontWeight":"bold","labelColor":"#1c2136","titleFontSize":10.5,"titleFontWeight":"bold","titleColor":"#1c2136","tickSize":4,"tickColor":"#000","domain":false,"labelPadding":6,"titlePadding":3,"labelFlush":false}},
"y":{"field":"l","type":"quantitative","scale":{"domain":[73,977],"reverse":true,"nice":false,"zero":false},"axis":{"values":[100,150,200,250,300,350,400,450,500,550,600,650,700,750,800,850,900,950],"title":null,"offset":-90.06,"labelFontSize":10.5,"labelFontWeight":"bold","labelColor":"#1c2136","tickSize":3,"tickColor":"#333","labelPadding":9,"domainColor":"#000","domainWidth":1.3}},
"color":{"field":"s","type":"nominal","scale":{"domain":["26_12","27_00","27_12","28_00","28_12","29_00","29_12"],"range":["#2a5cb8","#e8389a","#27a3dc","#f04a2a","#111111","#8858c4","#d8443c"]},"legend":{"title":null,"orient":"none","legendX":131,"legendY":219,"labelExpr":"'FE_KF_' + datum.label"}}},
"transform":[{"filter":"datum.p=='g'"},{"fold":["26_12","27_00","27_12","28_00","28_12","29_00","29_12"],"as":["s","v"]}],
"layer":[
{"mark":{"type":"line","strokeWidth":1.6},"encoding":{"order":{"field":"l","type":"quantitative"}}},
{"mark":{"type":"point","filled":true,"size":24,"opacity":1,"strokeWidth":1.2},"encoding":{"shape":{"field":"s","type":"nominal","scale":{"domain":["26_12","27_00","27_12","28_00","28_12","29_00","29_12"],"range":["triangle-up","circle","triangle-up","square","diamond","circle","square"]},"legend":{"title":null,"orient":"none","legendX":131,"legendY":219,"labelExpr":"'FE_KF_' + datum.label"}},"stroke":{"field":"s","type":"nominal","scale":{"domain":["26_12","27_00","27_12","28_00","28_12","29_00","29_12"],"range":["#2a5cb8","#e8389a","#27a3dc","#f04a2a","#111111","#8858c4","#d8443c"]},"legend":null},"fillOpacity":{"condition":{"test":"datum.s=='29_00'||datum.s=='29_12'","value":0},"value":1}}}
]},
{"width":262,"height":322,"data":{"name":"vort"},"title":{"text":"(h)","offset":-296,"dx":19},
"encoding":{"x":{"field":"v","type":"quantitative","scale":{"domain":[-11,19],"nice":false,"zero":false},"axis":{"values":[-11,-6,-1,4,9,14,19],"title":"Vorticity (×10^-5/s)","labelFontSize":10.5,"labelFontWeight":"bold","labelColor":"#1c2136","titleFontSize":10.5,"titleFontWeight":"bold","titleColor":"#1c2136","tickSize":4,"tickColor":"#000","domain":false,"labelPadding":6,"titlePadding":3,"labelFlush":false}},
"y":{"field":"l","type":"quantitative","scale":{"domain":[73,977],"reverse":true,"nice":false,"zero":false},"axis":{"values":[100,150,200,250,300,350,400,450,500,550,600,650,700,750,800,850,900,950],"title":null,"offset":-96.07,"labelFontSize":10.5,"labelFontWeight":"bold","labelColor":"#1c2136","tickSize":3,"tickColor":"#333","labelPadding":9,"domainColor":"#000","domainWidth":1.3}},
"color":{"field":"s","type":"nominal","scale":{"domain":["26_12","27_00","27_12","28_00","28_12","29_00","29_12"],"range":["#2a5cb8","#e8389a","#27a3dc","#f04a2a","#111111","#8858c4","#d8443c"]},"legend":{"title":null,"orient":"none","direction":"horizontal","legendX":181,"legendY":90,"labelExpr":"'FE_BMJ_' + datum.label","encoding":{"labels":{"angle":{"value":-90},"dx":{"value":11},"dy":{"value":-7.5}}}}}},
"transform":[{"filter":"datum.p=='h'"},{"fold":["26_12","27_00","27_12","28_00","28_12","29_00","29_12"],"as":["s","v"]}],
"layer":[
{"mark":{"type":"line","strokeWidth":1.6},"encoding":{"order":{"field":"l","type":"quantitative"}}},
{"mark":{"type":"point","filled":true,"size":24,"opacity":1,"strokeWidth":1.2},"encoding":{"shape":{"field":"s","type":"nominal","scale":{"domain":["26_12","27_00","27_12","28_00","28_12","29_00","29_12"],"range":["triangle-up","circle","triangle-up","square","diamond","circle","square"]},"legend":{"title":null,"orient":"none","direction":"horizontal","legendX":181,"legendY":90,"labelExpr":"'FE_BMJ_' + datum.label","encoding":{"labels":{"angle":{"value":-90},"dx":{"value":11},"dy":{"value":-7.5}}}}},"stroke":{"field":"s","type":"nominal","scale":{"domain":["26_12","27_00","27_12","28_00","28_12","29_00","29_12"],"range":["#2a5cb8","#e8389a","#27a3dc","#f04a2a","#111111","#8858c4","#d8443c"]},"legend":null},"fillOpacity":{"condition":{"test":"datum.s=='29_00'||datum.s=='29_12'","value":0},"value":1}}}
]}
],"spacing":38,"bounds":"flush","resolve":{"scale":{"color":"independent","shape":"independent","stroke":"independent"},"legend":{"color":"independent","shape":"independent"}}},
{"hconcat":[
{"width":276,"height":320,"data":{"name":"vort"},"title":{"text":"(i)","offset":-292,"dx":21},
"encoding":{"x":{"field":"v","type":"quantitative","scale":{"domain":[-11,19],"nice":false,"zero":false},"axis":{"values":[-11,-6,-1,4,9,14,19],"title":"Vorticity (×10^-5/s)","labelFontSize":10.5,"labelFontWeight":"bold","labelColor":"#1c2136","titleFontSize":10.5,"titleFontWeight":"bold","titleColor":"#1c2136","tickSize":4,"tickColor":"#000","domain":false,"labelPadding":6,"titlePadding":3,"labelFlush":false}},
"y":{"field":"l","type":"quantitative","scale":{"domain":[73,977],"reverse":true,"nice":false,"zero":false},"axis":{"values":[100,150,200,250,300,350,400,450,500,550,600,650,700,750,800,850,900,950],"title":null,"offset":-101.2,"labelFontSize":10.5,"labelFontWeight":"bold","labelColor":"#1c2136","tickSize":3,"tickColor":"#333","labelPadding":9,"domainColor":"#000","domainWidth":1.3}},
"color":{"field":"s","type":"nominal","scale":{"domain":["26_12","27_00","27_12","28_00","28_12","29_00","29_12"],"range":["#2a5cb8","#e8389a","#27a3dc","#f04a2a","#111111","#8858c4","#d8443c"]},"legend":{"title":null,"orient":"none","direction":"horizontal","legendX":186,"legendY":104,"labelExpr":"'WSM6_KF_' + datum.label","encoding":{"labels":{"angle":{"value":-90},"dx":{"value":11},"dy":{"value":-7.5}}}}}},
"transform":[{"filter":"datum.p=='i'"},{"fold":["26_12","27_00","27_12","28_00","28_12","29_00","29_12"],"as":["s","v"]}],
"layer":[
{"mark":{"type":"line","strokeWidth":1.6},"encoding":{"order":{"field":"l","type":"quantitative"}}},
{"mark":{"type":"point","filled":true,"size":24,"opacity":1,"strokeWidth":1.2},"encoding":{"shape":{"field":"s","type":"nominal","scale":{"domain":["26_12","27_00","27_12","28_00","28_12","29_00","29_12"],"range":["triangle-up","circle","triangle-up","square","diamond","circle","square"]},"legend":{"title":null,"orient":"none","direction":"horizontal","legendX":186,"legendY":104,"labelExpr":"'WSM6_KF_' + datum.label","encoding":{"labels":{"angle":{"value":-90},"dx":{"value":11},"dy":{"value":-7.5}}}}},"stroke":{"field":"s","type":"nominal","scale":{"domain":["26_12","27_00","27_12","28_00","28_12","29_00","29_12"],"range":["#2a5cb8","#e8389a","#27a3dc","#f04a2a","#111111","#8858c4","#d8443c"]},"legend":null},"fillOpacity":{"condition":{"test":"datum.s=='29_00'||datum.s=='29_12'","value":0},"value":1}}}
]},
{"width":262,"height":320,"data":{"name":"vort"},"title":{"text":"(j)","offset":-297,"dx":16},
"encoding":{"x":{"field":"v","type":"quantitative","scale":{"domain":[-11,19],"nice":false,"zero":false},"axis":{"values":[-11,-6,-1,4,9,14,19],"title":"Vorticity (×10^-5/s)","labelFontSize":10.5,"labelFontWeight":"bold","labelColor":"#1c2136","titleFontSize":10.5,"titleFontWeight":"bold","titleColor":"#1c2136","tickSize":4,"tickColor":"#000","domain":false,"labelPadding":6,"titlePadding":3,"labelFlush":false}},
"y":{"field":"l","type":"quantitative","scale":{"domain":[73,977],"reverse":true,"nice":false,"zero":false},"axis":{"values":[100,150,200,250,300,350,400,450,500,550,600,650,700,750,800,850,900,950],"title":null,"offset":-96.07,"labelFontSize":10.5,"labelFontWeight":"bold","labelColor":"#1c2136","tickSize":3,"tickColor":"#333","labelPadding":9,"domainColor":"#000","domainWidth":1.3}},
"color":{"field":"s","type":"nominal","scale":{"domain":["26_12","27_00","27_12","28_00","28_12","29_00","29_12"],"range":["#2a5cb8","#e8389a","#27a3dc","#f04a2a","#111111","#8858c4","#d8443c"]},"legend":{"title":null,"orient":"none","direction":"horizontal","legendX":180,"legendY":108,"labelExpr":"'WSM6_BMJ_' + datum.label","encoding":{"labels":{"angle":{"value":-90},"dx":{"value":11},"dy":{"value":-7.5}}}}}},
"transform":[{"filter":"datum.p=='j'"},{"fold":["26_12","27_00","27_12","28_00","28_12","29_00","29_12"],"as":["s","v"]}],
"layer":[
{"mark":{"type":"line","strokeWidth":1.6},"encoding":{"order":{"field":"l","type":"quantitative"}}},
{"mark":{"type":"point","filled":true,"size":24,"opacity":1,"strokeWidth":1.2},"encoding":{"shape":{"field":"s","type":"nominal","scale":{"domain":["26_12","27_00","27_12","28_00","28_12","29_00","29_12"],"range":["triangle-up","circle","triangle-up","square","diamond","circle","square"]},"legend":{"title":null,"orient":"none","direction":"horizontal","legendX":180,"legendY":108,"labelExpr":"'WSM6_BMJ_' + datum.label","encoding":{"labels":{"angle":{"value":-90},"dx":{"value":11},"dy":{"value":-7.5}}}}},"stroke":{"field":"s","type":"nominal","scale":{"domain":["26_12","27_00","27_12","28_00","28_12","29_00","29_12"],"range":["#2a5cb8","#e8389a","#27a3dc","#f04a2a","#111111","#8858c4","#d8443c"]},"legend":null},"fillOpacity":{"condition":{"test":"datum.s=='29_00'||datum.s=='29_12'","value":0},"value":1}}}
]},
{"width":262,"height":320,"data":{"name":"vort"},"title":{"text":"(k)","offset":-294,"dx":21},
"encoding":{"x":{"field":"v","type":"quantitative","scale":{"domain":[-11,19],"nice":false,"zero":false},"axis":{"values":[-11,-6,-1,4,9,14,19],"title":"Vorticity (×10^-5/s)","labelFontSize":10.5,"labelFontWeight":"bold","labelColor":"#1c2136","titleFontSize":10.5,"titleFontWeight":"bold","titleColor":"#1c2136","tickSize":4,"tickColor":"#000","domain":false,"labelPadding":6,"titlePadding":3,"labelFlush":false}},
"y":{"field":"l","type":"quantitative","scale":{"domain":[73,977],"reverse":true,"nice":false,"zero":false},"axis":{"values":[100,150,200,250,300,350,400,450,500,550,600,650,700,750,800,850,900,950],"title":null,"offset":-96.07,"labelFontSize":10.5,"labelFontWeight":"bold","labelColor":"#1c2136","tickSize":3,"tickColor":"#333","labelPadding":9,"domainColor":"#000","domainWidth":1.3}},
"color":{"field":"s","type":"nominal","scale":{"domain":["26_12","27_00","27_12","28_00","28_12","29_00","29_12"],"range":["#2a5cb8","#e8389a","#27a3dc","#f04a2a","#111111","#8858c4","#d8443c"]},"legend":{"title":null,"orient":"none","legendX":176,"legendY":4,"labelExpr":"'TH_KF_' + datum.label"}}},
"transform":[{"filter":"datum.p=='k'"},{"fold":["26_12","27_00","27_12","28_00","28_12","29_00","29_12"],"as":["s","v"]}],
"layer":[
{"mark":{"type":"line","strokeWidth":1.6},"encoding":{"order":{"field":"l","type":"quantitative"}}},
{"mark":{"type":"point","filled":true,"size":24,"opacity":1,"strokeWidth":1.2},"encoding":{"shape":{"field":"s","type":"nominal","scale":{"domain":["26_12","27_00","27_12","28_00","28_12","29_00","29_12"],"range":["triangle-up","circle","triangle-up","square","diamond","circle","square"]},"legend":{"title":null,"orient":"none","legendX":176,"legendY":4,"labelExpr":"'TH_KF_' + datum.label"}},"stroke":{"field":"s","type":"nominal","scale":{"domain":["26_12","27_00","27_12","28_00","28_12","29_00","29_12"],"range":["#2a5cb8","#e8389a","#27a3dc","#f04a2a","#111111","#8858c4","#d8443c"]},"legend":null},"fillOpacity":{"condition":{"test":"datum.s=='29_00'||datum.s=='29_12'","value":0},"value":1}}}
]},
{"width":262,"height":320,"data":{"name":"vort"},"title":{"text":"(l)","offset":-299,"dx":18},
"encoding":{"x":{"field":"v","type":"quantitative","scale":{"domain":[-11,19],"nice":false,"zero":false},"axis":{"values":[-11,-6,-1,4,9,14,19],"title":"Vorticity (×10^-5/s)","labelFontSize":10.5,"labelFontWeight":"bold","labelColor":"#1c2136","titleFontSize":10.5,"titleFontWeight":"bold","titleColor":"#1c2136","tickSize":4,"tickColor":"#000","domain":false,"labelPadding":6,"titlePadding":3,"labelFlush":false}},
"y":{"field":"l","type":"quantitative","scale":{"domain":[73,977],"reverse":true,"nice":false,"zero":false},"axis":{"values":[100,150,200,250,300,350,400,450,500,550,600,650,700,750,800,850,900,950],"title":null,"offset":-96.07,"labelFontSize":10.5,"labelFontWeight":"bold","labelColor":"#1c2136","tickSize":3,"tickColor":"#333","labelPadding":9,"domainColor":"#000","domainWidth":1.3}},
"color":{"field":"s","type":"nominal","scale":{"domain":["26_12","27_00","27_12","28_00","28_12","29_00","29_12"],"range":["#2a5cb8","#e8389a","#27a3dc","#f04a2a","#111111","#8858c4","#d8443c"]},"legend":{"title":null,"orient":"none","legendX":175,"legendY":1,"labelExpr":"'TH_BJ_' + datum.label"}}},
"transform":[{"filter":"datum.p=='l'"},{"fold":["26_12","27_00","27_12","28_00","28_12","29_00","29_12"],"as":["s","v"]}],
"layer":[
{"mark":{"type":"line","strokeWidth":1.6},"encoding":{"order":{"field":"l","type":"quantitative"}}},
{"mark":{"type":"point","filled":true,"size":24,"opacity":1,"strokeWidth":1.2},"encoding":{"shape":{"field":"s","type":"nominal","scale":{"domain":["26_12","27_00","27_12","28_00","28_12","29_00","29_12"],"range":["triangle-up","circle","triangle-up","square","diamond","circle","square"]},"legend":{"title":null,"orient":"none","legendX":175,"legendY":1,"labelExpr":"'TH_BJ_' + datum.label"}},"stroke":{"field":"s","type":"nominal","scale":{"domain":["26_12","27_00","27_12","28_00","28_12","29_00","29_12"],"range":["#2a5cb8","#e8389a","#27a3dc","#f04a2a","#111111","#8858c4","#d8443c"]},"legend":null},"fillOpacity":{"condition":{"test":"datum.s=='29_00'||datum.s=='29_12'","value":0},"value":1}}}
]}
],"spacing":38,"bounds":"flush","resolve":{"scale":{"color":"independent","shape":"independent","stroke":"independent"},"legend":{"color":"independent","shape":"independent"}}}
],
"spacing":15,
"resolve":{"scale":{"color":"independent","shape":"independent","stroke":"independent"},"legend":{"color":"independent","shape":"independent"}}
}
